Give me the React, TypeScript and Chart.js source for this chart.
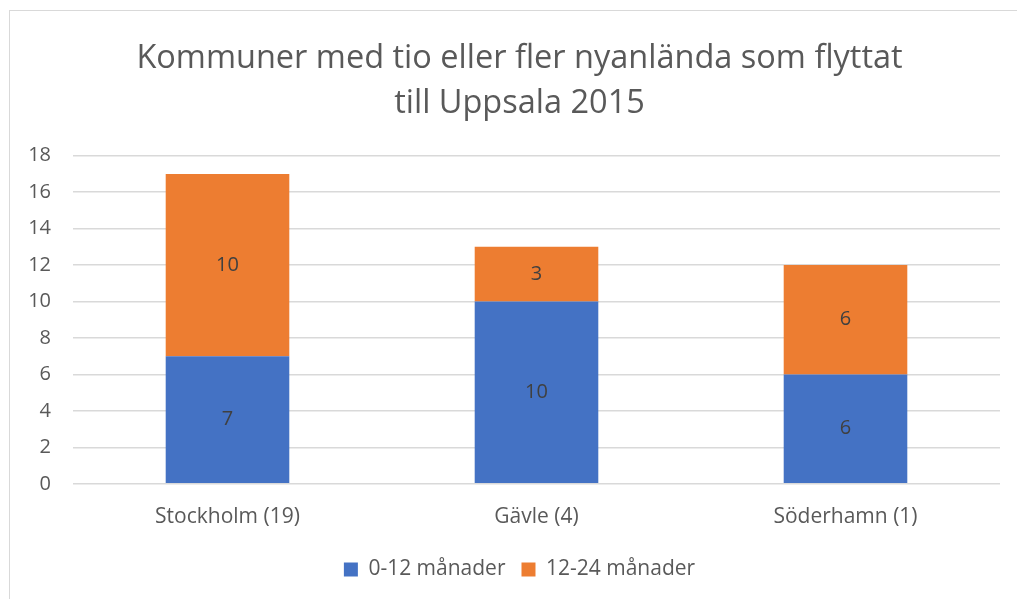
import React, { useEffect, useRef } from "react";
import { Chart, registerables } from "chart.js";

Chart.register(...registerables);

const categories = ["Stockholm (19)", "Gävle (4)", "Söderhamn (1)"];
const series1Label = "0-12 månader";
const series2Label = "12-24 månader";
const series1 = [7, 10, 6];
const series2 = [10, 3, 6];
const titleLines = ["Kommuner med tio eller fler nyanlända som flyttat", "till Uppsala 2015"];

const FONT = "'Open Sans', sans-serif";

const labelPlugin = {
  id: "barLabels",
  afterDatasetsDraw(chart: any) {
    const ctx = chart.ctx;
    ctx.save();
    ctx.font = `20px ${FONT}`;
    ctx.fillStyle = "#404040";
    ctx.textAlign = "center";
    ctx.textBaseline = "middle";
    chart.data.datasets.forEach((ds: any, i: number) => {
      const meta = chart.getDatasetMeta(i);
      meta.data.forEach((bar: any, j: number) => {
        const v = ds.data[j];
        const yc = (bar.y + bar.base) / 2;
        ctx.fillText(String(v), bar.x, yc);
      });
    });
    ctx.restore();
  },
};

export default function App() {
  const ref = useRef<HTMLCanvasElement>(null);
  useEffect(() => {
    document.body.style.margin = "0";
    document.body.style.overflow = "hidden";
    const chart = new Chart(ref.current!, {
      type: "bar",
      data: {
        labels: categories,
        datasets: [
          {
            label: series1Label,
            data: series1,
            backgroundColor: "#4472C4",
            borderWidth: 0,
            categoryPercentage: 1,
            barPercentage: 0.4,
          },
          {
            label: series2Label,
            data: series2,
            backgroundColor: "#ED7D31",
            borderWidth: 0,
            categoryPercentage: 1,
            barPercentage: 0.4,
          },
        ],
      },
      options: {
        animation: false,
        responsive: false,
        layout: { padding: { left: 0, right: 0, top: 0, bottom: 11 } },
        plugins: {
          title: {
            display: true,
            text: titleLines,
            color: "#595959",
            font: { family: FONT, size: 32.5, weight: "normal" as any, lineHeight: 1.38 },
            padding: { top: 25, bottom: 30 },
          },
          legend: {
            position: "bottom",
            labels: {
              color: "#595959",
              font: { family: FONT, size: 21 },
              boxWidth: 14,
              boxHeight: 14,
              padding: 16,
            },
          },
          tooltip: { enabled: false },
        },
        scales: {
          x: {
            stacked: true,
            grid: { display: false },
            border: { display: false },
            ticks: { color: "#595959", font: { family: FONT, size: 21 }, padding: 13 },
          },
          y: {
            stacked: true,
            min: 0,
            max: 18,
            ticks: { stepSize: 2, color: "#595959", font: { family: FONT, size: 20 }, padding: 22 },
            grid: { color: "#d9d9d9", lineWidth: 1.5, drawTicks: false },
            border: { display: false },
            afterFit(scale: any) {
              scale.width = 63;
            },
          },
          yRight: {
            position: "right",
            display: true,
            grid: { display: false },
            border: { display: false },
            ticks: { display: false },
            afterFit(scale: any) {
              scale.width = 29;
            },
          },
        },
      },
      plugins: [labelPlugin],
    });
    return () => chart.destroy();
  }, []);
  return (
    <div
      style={{
        position: "absolute",
        left: 9,
        top: 10,
        width: 1019,
        height: 600,
        border: "1.5px solid #d9d9d9",
        background: "#fff",
      }}
    >
      <canvas ref={ref} width={1019} height={590} style={{ display: "block" }} />
    </div>
  );
}
